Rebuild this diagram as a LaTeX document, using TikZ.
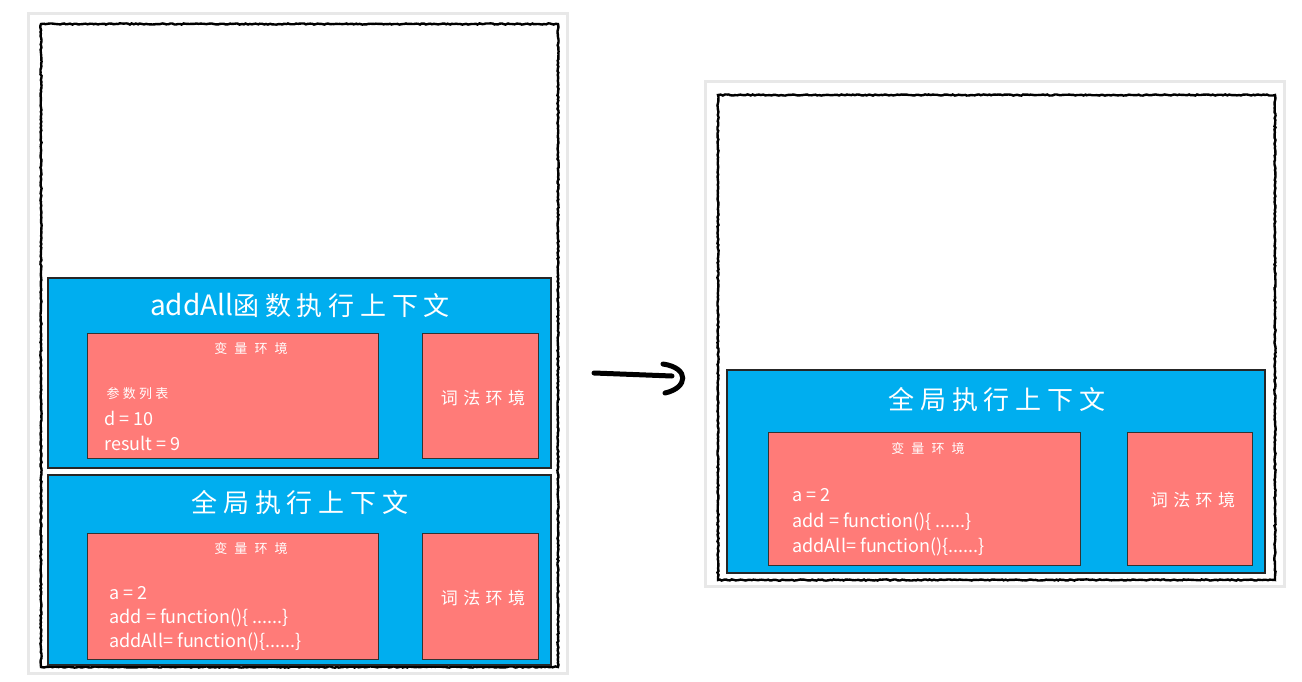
\documentclass[tikz,border=0pt]{standalone}
\usepackage{fontspec}
\setmainfont{Noto Sans CJK SC}
\usetikzlibrary{decorations.pathmorphing}
\definecolor{ecblue}{RGB}{0,174,239}
\definecolor{ecred}{RGB}{255,123,120}
\definecolor{shadowc}{RGB}{232,232,232}
\newcommand{\wide}[2]{{\addfontfeature{LetterSpace=#1}#2}}
\tikzset{
  card/.style={fill=white},
  rough/.style={draw=black,line width=2.4pt,decorate,decoration={random steps,segment length=2pt,amplitude=0.6pt}},
  ctx/.style={draw=black!85,line width=1.3pt,fill=ecblue},
  env/.style={draw=black!80,line width=1pt,fill=ecred},
  ttl/.style={text=white,font=\fontsize{26}{30}\selectfont},
  small/.style={text=white,font=\fontsize{13}{15}\selectfont\addfontfeature{LetterSpace=55}},
  param/.style={text=white,anchor=west,font=\fontsize{13}{15}\selectfont\addfontfeature{LetterSpace=25}},
  code/.style={text=white,anchor=west,font=\fontsize{18}{20}\selectfont},
  lex/.style={text=white,font=\fontsize{17}{20}\selectfont\addfontfeature{LetterSpace=32}},
}
\begin{document}
\begin{tikzpicture}[x=1pt,y=-1pt]
\useasboundingbox (0,0) rectangle (1302,681);
% shadows and cards
\fill[shadowc] (27,12) rectangle (569,675);
\fill[card] (30,15) rectangle (566,672);
\fill[shadowc] (704,80) rectangle (1286,588);
\fill[card] (707,83) rectangle (1283,585);
% rough frames
\draw[rough] (41,24) rectangle (558,667);
\draw[rough] (718,95) rectangle (1275,580);

% Left: addAll context
\node[ctx,minimum width=503pt,minimum height=190pt,inner sep=0pt] (c1) at (299.5,373) {};
\node[ttl] (t1) at (300,305) {{\fontsize{28}{30}\selectfont addAll}\wide{22}{函数执行上下文}};
\node[env,minimum width=291pt,minimum height=125pt,inner sep=0pt] (v1) at (232.5,395.5) {};
\node[env,minimum width=116pt,minimum height=125pt,inner sep=0pt] (l1) at (480,395.5) {};
\node[small] (v1t) at (251,349) {变量环境};
\node[param] (p1) at (103,394) {参数列表};
\node[code] (d1) at (101,418) {d = 10};
\node[code] (r1) at (101,443) {result = 9};
\node[lex] (l1t) at (483,398) {词法环境};

% Left: global context
\node[ctx,minimum width=503pt,minimum height=190pt,inner sep=0pt] (c2) at (299.5,570) {};
\node[ttl] (t2) at (300,503) {\wide{22}{全局执行上下文}};
\node[env,minimum width=291pt,minimum height=126pt,inner sep=0pt] (v2) at (232.5,596) {};
\node[env,minimum width=116pt,minimum height=126pt,inner sep=0pt] (l2) at (480,596) {};
\node[small] (v2t) at (251,549) {变量环境};
\node[code] (a2) at (106,593) {a = 2};
\node[code] (f2) at (106,618) {add = function()\{ ......\}};
\node[code] (g2) at (106,642) {addAll= function()\{......\}};
\node[lex] (l2t) at (483,598) {词法环境};

% Right: global context
\node[ctx,minimum width=538pt,minimum height=203pt,inner sep=0pt] (c3) at (996,471.5) {};
\node[ttl] (t3) at (997,400) {\wide{22}{全局执行上下文}};
\node[env,minimum width=312pt,minimum height=133pt,inner sep=0pt] (v3) at (924,498.5) {};
\node[env,minimum width=125pt,minimum height=133pt,inner sep=0pt] (l3) at (1189.5,498.5) {};
\node[small] (v3t) at (928,449) {变量环境};
\node[code] (a3) at (789,495) {a = 2};
\node[code] (f3) at (789,522) {add = function()\{ ......\}};
\node[code] (g3) at (789,547) {addAll= function()\{......\}};
\node[lex] (l3t) at (1193,500) {词法环境};

% arrow
\coordinate (as) at (594,373);
\coordinate (ae) at (672,376);
\draw[line width=5pt,line cap=round] (as) -- (ae);
\draw[line width=5pt,line cap=round] (663,364) .. controls (690,368) and (688,388) .. (665,393);
\end{tikzpicture}
\end{document}
